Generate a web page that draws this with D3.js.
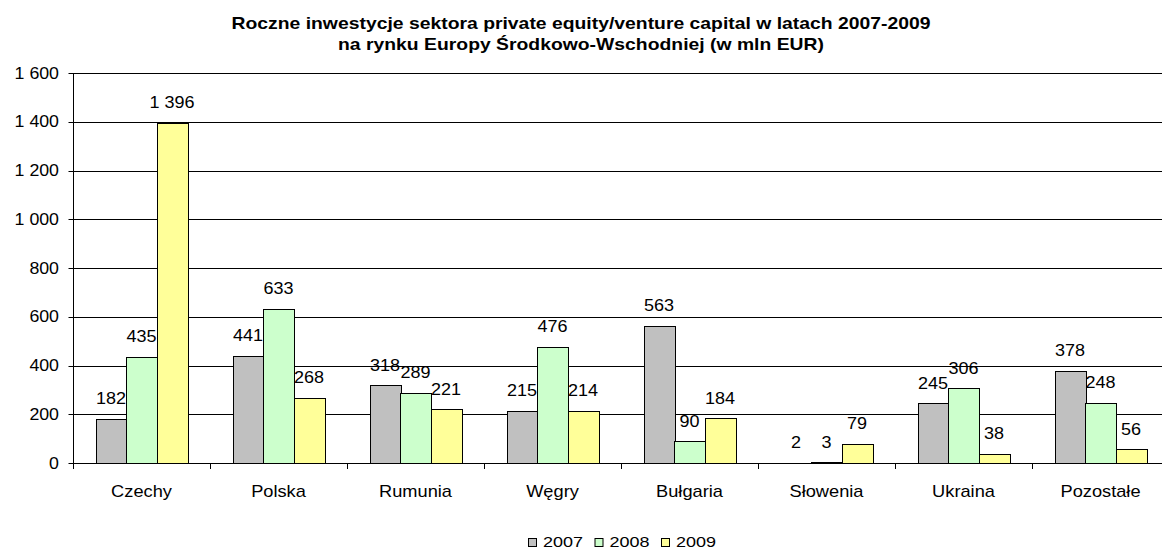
<!DOCTYPE html>
<html>
<head>
<meta charset="utf-8">
<script src="https://cdn.jsdelivr.net/npm/d3@7"></script>
<style>
  body { margin: 0; background: #fff; }
  svg { display: block; font-family: Arial, "Liberation Sans", sans-serif; }
</style>
</head>
<body>
<svg id="chart" width="1162" height="550"></svg>
<script>
// data
var countries = ['Czechy', 'Polska', 'Rumunia', 'Węgry', 'Bułgaria', 'Słowenia', 'Ukraina', 'Pozostałe'];
var years = ['2007', '2008', '2009'];
var v2007 = [182, 441, 318, 215, 563, 2, 245, 378];
var v2008 = [435, 633, 289, 476, 90, 3, 306, 248];
var v2009 = [1396, 268, 221, 214, 184, 79, 38, 56];
var yTicks = [0, 200, 400, 600, 800, 1000, 1200, 1400, 1600];
var titleLines = [
  'Roczne inwestycje sektora private equity/venture capital w latach 2007-2009',
  'na rynku Europy Środkowo-Wschodniej (w mln EUR)'
];

var colors = { '2007': '#c0c0c0', '2008': '#ccffcc', '2009': '#ffff99' };

var pl = d3.formatLocale({ decimal: ',', thousands: '\u00a0', grouping: [3], currency: ['', ''] });
var fmt = pl.format(',d');

var svg = d3.select('#chart');
var pLeft = 73, pTop = 73, pBottom = 463, pRight = 1169;

var x0 = d3.scaleBand().domain(countries).range([pLeft, pRight]);
var step = x0.step();
var x1 = d3.scaleBand().domain(years).range([step * 0.165, step * 0.835]);
var y = d3.scaleLinear().domain([0, 1600]).range([pBottom, pTop]);

var rows = countries.map((c, i) => {
  return { country: c, values: [
    { year: '2007', v: v2007[i] },
    { year: '2008', v: v2008[i] },
    { year: '2009', v: v2009[i] }
  ] };
});

// text in the reference is a bit stretched sideways, so each label gets its own x scale
function sText (sel, s) {
  return sel.attr('transform', d => 'translate(' + d.x + ',' + d.y + ') scale(' + s + ',1)');
}

// title
svg.append('g').selectAll('text')
  .data(titleLines.map((t, i) => ({ t: t, x: 581, y: 29 + i * 21 })))
  .enter().append('text')
    .call(sText, 1.21)
    .attr('text-anchor', 'middle')
    .attr('font-size', 16)
    .attr('font-weight', 'bold')
    .text(d => d.t);

// gridlines
svg.append('g').selectAll('line')
  .data(yTicks.filter(d => d > 0))
  .enter().append('line')
    .attr('x1', pLeft).attr('x2', 1162)
    .attr('y1', d => Math.round(y(d)) + 0.5)
    .attr('y2', d => Math.round(y(d)) + 0.5)
    .attr('stroke', '#000')
    .attr('stroke-width', 1);

// y axis
var ya = svg.append('g').attr('transform', 'translate(' + (pLeft + 0.5) + ',0)');
ya.append('line').attr('y1', pTop).attr('y2', pBottom + 0.5).attr('stroke', '#000');
ya.selectAll('line.tick')
  .data(yTicks)
  .enter().append('line')
    .attr('class', 'tick')
    .attr('x1', -5).attr('x2', 0)
    .attr('y1', d => Math.round(y(d)) + 0.5)
    .attr('y2', d => Math.round(y(d)) + 0.5)
    .attr('stroke', '#000');
svg.append('g').selectAll('text')
  .data(yTicks.map(d => ({ t: fmt(d), x: 59, y: y(d) + 5.5 })))
  .enter().append('text')
    .call(sText, 1.11)
    .attr('text-anchor', 'end')
    .attr('font-size', 16)
    .text(d => d.t);

// bars
var groups = svg.append('g').selectAll('g')
  .data(rows)
  .enter().append('g')
    .attr('transform', d => 'translate(' + x0(d.country) + ',0)');

groups.selectAll('rect')
  .data(d => d.values)
  .enter().append('rect')
    .attr('x', d => Math.round(x1(d.year)) + 0.5)
    .attr('y', d => Math.round(y(d.v)) + 0.5)
    .attr('width', Math.round(x1.bandwidth()))
    .attr('height', d => Math.round(pBottom - y(d.v)))
    .attr('fill', d => colors[d.year])
    .attr('stroke', '#000')
    .attr('stroke-width', 1);

// x axis
var xa = svg.append('g');
xa.append('line')
  .attr('x1', pLeft).attr('x2', 1162)
  .attr('y1', pBottom + 0.5).attr('y2', pBottom + 0.5)
  .attr('stroke', '#000');
xa.selectAll('line.tick')
  .data(countries)
  .enter().append('line')
    .attr('class', 'tick')
    .attr('x1', d => Math.round(x0(d)) + 0.5)
    .attr('x2', d => Math.round(x0(d)) + 0.5)
    .attr('y1', pBottom).attr('y2', pBottom + 6)
    .attr('stroke', '#000');
xa.selectAll('text')
  .data(countries.map(c => ({ t: c, x: x0(c) + step / 2, y: 497 })))
  .enter().append('text')
    .call(sText, 1.14)
    .attr('text-anchor', 'middle')
    .attr('font-size', 16)
    .text(d => d.t);

// value labels
groups.selectAll('text')
  .data(d => d.values.map(v => ({ t: fmt(v.v), x: x1(v.year) + x1.bandwidth() / 2, y: y(v.v) - 14.5 })))
  .enter().append('text')
    .call(sText, 1.06)
    .attr('text-anchor', 'middle')
    .attr('font-size', 17)
    .text(d => d.t);

// legend
var lg = svg.append('g').selectAll('g')
  .data(years)
  .enter().append('g')
    .attr('transform', (d, i) => 'translate(' + (528 + i * 66.5) + ',538)');
lg.append('rect')
  .attr('x', 0.5).attr('y', 0.5)
  .attr('width', 8).attr('height', 8)
  .attr('fill', d => colors[d])
  .attr('stroke', '#000');
lg.append('text')
  .datum(d => ({ t: d, x: 15, y: 9 }))
  .call(sText, 1.2)
  .attr('font-size', 15)
  .text(d => d.t);
</script>
</body>
</html>
